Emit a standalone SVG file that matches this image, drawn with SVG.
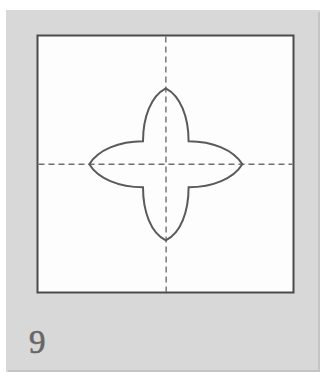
<svg xmlns="http://www.w3.org/2000/svg" width="328" height="376" viewBox="0 0 328 376">
<style>
.panel{fill:#d8d8d8}
.sq{fill:#fdfdfd;stroke:#4a4a4a;stroke-width:2}
.dash{stroke:#707070;stroke-width:1.4;stroke-dasharray:6 4;fill:none}
.star{fill:none;stroke:#5a5a5a;stroke-width:2;stroke-linejoin:miter}
.num{font-family:"Liberation Serif",serif;font-size:33px;fill:#666666;stroke:#666666;stroke-width:0.6}
</style>
<rect width="328" height="376" fill="#ffffff"/>
<g id="panel">
<rect class="panel" x="6" y="10" width="314" height="362"/>
<rect x="318" y="12" width="2" height="360" fill="#c4c4c4"/>
<rect x="8" y="370" width="312" height="2" fill="#c4c4c4"/>
</g>
<g id="square">
<rect class="sq" x="37.5" y="35.5" width="256" height="257"/>
</g>
<g id="folds">
<line class="dash" x1="165.8" y1="36.5" x2="166.2" y2="292"/>
<line class="dash" x1="38.5" y1="164.3" x2="292.5" y2="164.3"/>
</g>
<g id="shape">
<path class="star" d="M165.8 88.3 C151 96 143 117 143 141.3 C119 141.3 98 150 89.3 164.3 C98 178.6 119 187.3 143 187.3 C143 212 151 233 165.8 240.3 C180.6 233 188.6 212 188.6 187.3 C212.6 187.3 233.6 178.6 242.3 164.3 C233.6 150 212.6 141.3 188.6 141.3 C188.6 117 180.6 96 165.8 88.3 Z"/>
</g>
<g id="label">
<text class="num" x="29" y="353">9</text>
</g>
</svg>
